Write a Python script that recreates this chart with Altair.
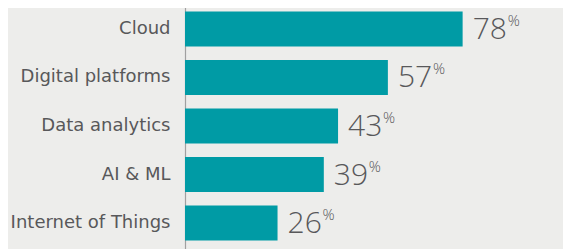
import altair as alt
import pandas as pd

categories = ["Cloud", "Digital platforms", "Data analytics", "AI & ML", "Internet of Things"]
values = [78, 57, 43, 39, 26]
pct_labels = ["78", "57", "43", "39", "26"]

df = pd.DataFrame({"cat": categories, "val": values, "lbl": pct_labels})

FONT = "Open Sans"
TXT = "#58585a"

y = alt.Y("cat:N", sort=categories, title=None,
          scale=alt.Scale(paddingInner=0.278, paddingOuter=0.175),
          axis=alt.Axis(ticks=False, labelPadding=15, labelFontSize=18, labelColor=TXT,
                        labelFont="DejaVu Sans", domainColor="#a0a0a0",
                        domainWidth=1.2, labelLimit=300))
x = alt.X("val:Q", title=None, scale=alt.Scale(domain=[0, 106.2], nice=False), axis=None)

base = alt.Chart(df).encode(y=y, x=x)

bars = base.mark_bar(color="#009ba5", cornerRadius=0)
nums = base.mark_text(align="left", baseline="middle", dx=10, dy=1, fontSize=30, font=FONT,
                      fontWeight=300, color=TXT).encode(text="lbl:N")
pcts = base.mark_text(align="left", baseline="middle", dx=45, dy=-8, fontSize=15, font=FONT,
                      fontWeight=300, color=TXT).encode(text=alt.value("%"))

chart = (bars + nums + pcts).properties(
    width=378, height=246,
    autosize=alt.AutoSizeParams(type="none"),
    padding={"left": 177, "top": -5, "right": 0, "bottom": 0},
    background="#ededeb",
).configure_view(strokeWidth=0)

chart.save("out.html", embed_options={"renderer": "svg", "actions": False})
